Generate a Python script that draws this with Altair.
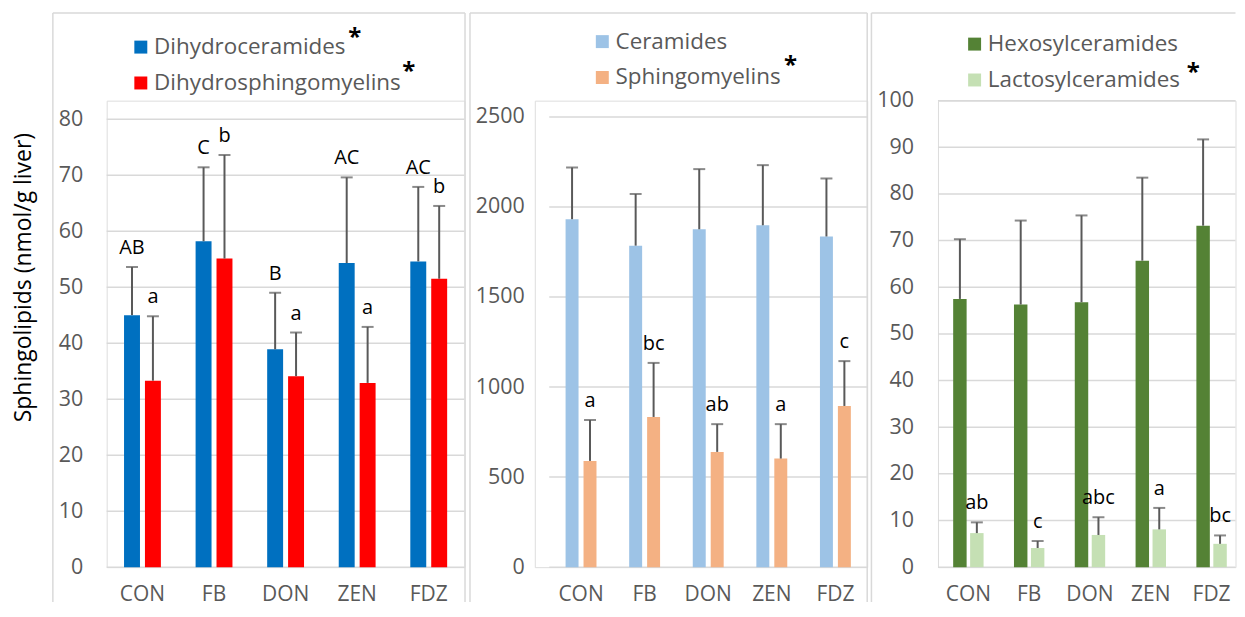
import altair as alt
import pandas as pd

groups = ["CON", "FB", "DON", "ZEN", "FDZ"]

# Panel 1
p1_series = ["Dihydroceramides", "Dihydrosphingomyelins"]
dhcer_mean = [45.0, 58.2, 38.9, 54.3, 54.6]
dhcer_upper = [53.6, 71.4, 49.0, 69.6, 67.9]
dhcer_letters = ["AB", "C", "B", "AC", "AC"]
dhsm_mean = [33.3, 55.1, 34.1, 32.9, 51.5]
dhsm_upper = [44.8, 73.6, 41.9, 42.9, 64.5]
dhsm_letters = ["a", "b", "a", "a", "b"]
p1_ticks = [0, 10, 20, 30, 40, 50, 60, 70, 80]

# Panel 2
p2_series = ["Ceramides", "Sphingomyelins"]
cer_mean = [1932, 1785, 1876, 1898, 1836]
cer_upper = [2219, 2072, 2210, 2232, 2158]
cer_letters = ["", "", "", "", ""]
sm_mean = [590, 834, 640, 603, 895]
sm_upper = [817, 1134, 794, 794, 1144]
sm_letters = ["a", "bc", "ab", "a", "c"]
p2_ticks = [0, 500, 1000, 1500, 2000, 2500]

# Panel 3
p3_series = ["Hexosylceramides", "Lactosylceramides"]
hex_mean = [57.5, 56.3, 56.8, 65.7, 73.2]
hex_upper = [70.3, 74.3, 75.4, 83.5, 91.7]
hex_letters = ["", "", "", "", ""]
lac_mean = [7.3, 4.1, 6.9, 8.1, 5.0]
lac_upper = [9.6, 5.6, 10.7, 12.7, 6.8]
lac_letters = ["ab", "c", "abc", "a", "bc"]
p3_ticks = [0, 10, 20, 30, 40, 50, 60, 70, 80, 90, 100]

y_title = "Sphingolipids (nmol/g liver)"

FONT = "Open Sans"
GRID = "#D9D9D9"
LABEL = "#595959"
ERR = "#595959"
H = 468
TOP = -88
BOTTOM = H + 35


def panel(series, means, uppers, letters, colors, ydomain, yvalues, width,
          x0, x1, pad_inner, off_pad, legend_x, legend_y, stars, box_left,
          box_right, box_top_right, label_pad, title=None):
    rows = []
    for s, m, u, lt in zip(series, means, uppers, letters):
        for g, mv, uv, lv in zip(groups, m, u, lt):
            rows.append(dict(group=g, series=s, mean=mv, upper=uv, letter=lv))
    df = pd.DataFrame(rows)

    x = alt.X("group:N", sort=groups,
              scale=alt.Scale(paddingInner=pad_inner, paddingOuter=pad_inner / 2,
                              round=False, range=[x0, x1]),
              axis=None)
    xo = alt.XOffset("series:N", sort=series,
                     scale=alt.Scale(paddingInner=off_pad, paddingOuter=0,
                                     round=False))
    yaxis_kw = dict(values=yvalues, format="d", domain=False, ticks=False,
                    labelPadding=label_pad, labelFontSize=21.5, labelColor=LABEL,
                    labelFont=FONT, grid=False)
    if title:
        yaxis_kw.update(title=title, titleFontSize=23, titleFont=FONT,
                        titleFontWeight="normal", titleColor="#000000",
                        titleX=-83, titleY=177, titleAngle=270,
                        titleBaseline="middle", titleAlign="center")
    else:
        yaxis_kw.update(title=None)
    y = alt.Y("mean:Q", scale=alt.Scale(domain=ydomain, nice=False, zero=True),
              axis=alt.Axis(**yaxis_kw))
    color = alt.Color("series:N", sort=series,
                      scale=alt.Scale(domain=series, range=colors),
                      legend=alt.Legend(title=None, orient="none",
                                        legendX=legend_x, legendY=legend_y,
                                        symbolType="square", symbolSize=169,
                                        symbolStrokeWidth=0, symbolOpacity=1,
                                        labelFontSize=22.5, labelFont=FONT,
                                        labelColor=LABEL, labelOffset=2,
                                        rowPadding=13, padding=0, labelLimit=400))

    grid_df = pd.DataFrame({"tick": yvalues})
    grid = alt.Chart(grid_df).mark_rule(color=GRID, strokeWidth=1.5).encode(
        x=alt.value(x0), x2=alt.value(width), y=alt.Y("tick:Q"))

    base = alt.Chart(df)
    bars = base.mark_bar().encode(x=x, xOffset=xo, y=y, color=color)
    err = base.mark_rule(color=ERR, strokeWidth=2).encode(
        x=x, xOffset=xo, y="mean:Q", y2="upper:Q")
    caps = base.mark_tick(color=ERR, size=12, thickness=2).encode(
        x=x, xOffset=xo, y="upper:Q")
    text = base.mark_text(font=FONT, fontSize=20, color="#000000",
                          baseline="bottom", dy=-9).encode(
        x=x, xOffset=xo, y="upper:Q", text="letter:N")

    xlab_df = pd.DataFrame({"group": groups})
    xlabels = alt.Chart(xlab_df).mark_text(
        font=FONT, fontSize=21, color=LABEL, baseline="top").encode(
        x=x, y=alt.value(H + 17), text="group:N")

    dummy = alt.Chart(pd.DataFrame({"k": [0]}))
    frame = []
    frame.append(dummy.mark_rule(color=GRID, strokeWidth=1.5).encode(
        x=alt.value(box_left), y=alt.value(TOP), y2=alt.value(BOTTOM)))
    frame.append(dummy.mark_rule(color=GRID, strokeWidth=1.5).encode(
        x=alt.value(box_left), x2=alt.value(box_top_right), y=alt.value(TOP)))
    if box_right is not None:
        frame.append(dummy.mark_rule(color=GRID, strokeWidth=1.5).encode(
            x=alt.value(box_right), y=alt.value(TOP), y2=alt.value(BOTTOM)))
    star_layers = [
        dummy.mark_text(text="*", font=FONT, fontSize=24, fontWeight="bold",
                        color="#000000", baseline="alphabetic").encode(
            x=alt.value(sx), y=alt.value(sy))
        for sx, sy in stars
    ]
    return alt.layer(*frame, grid, bars, err, caps, text, xlabels,
                     *star_layers).properties(width=width, height=H)


c1 = panel(p1_series, [dhcer_mean, dhsm_mean], [dhcer_upper, dhsm_upper],
           [dhcer_letters, dhsm_letters], ["#0070C0", "#FF0000"],
           [0, 83.3], p1_ticks, 359, 0, 359, 0.485, 0.238, 23, -65,
           [(249, -55.5), (303, -21.5)], -54, 359.5, 359.5, 24, title=y_title)
c2 = panel(p2_series, [cer_mean, sm_mean], [cer_upper, sm_upper],
           [cer_letters, sm_letters], ["#9DC3E6", "#F4B183"],
           [0, 2590], p2_ticks, 333.5, 14.5, 333.5, 0.514, 0.278, 56.5, -70.5,
           [(256.5, -27.5)], -65, 333.5, 333.5, 10.5)
c3 = panel(p3_series, [hex_mean, lac_mean], [hex_upper, lac_upper],
           [hex_letters, lac_letters], ["#548235", "#C5E0B4"],
           [0, 100], p3_ticks, 298.5, 0, 305, 0.5, 0.206, 25.5, -68,
           [(256, -20.5)], -66.75, None, 298.5, 24.5)

chart = alt.hconcat(c1, c2, c3, spacing=70.5, bounds="flush").resolve_scale(
    color="independent", y="independent", x="independent",
    xOffset="independent").properties(
    padding={"left": 4, "top": 2, "right": 0, "bottom": 0}
).configure_view(stroke=None).configure(font=FONT)

chart.save("out.html", embed_options={"renderer": "svg", "actions": False})
